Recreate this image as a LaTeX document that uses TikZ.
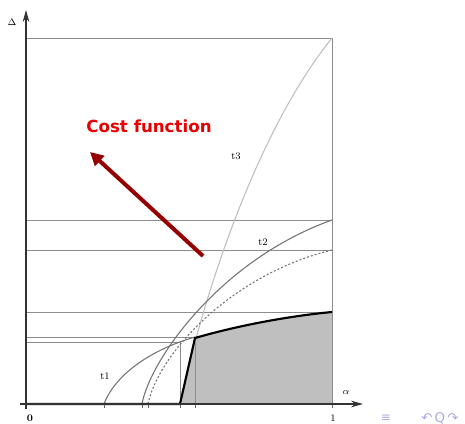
\documentclass[tikz,border=0pt]{standalone}
\usepackage{fontspec}
\newfontfamily\dejavu{DejaVu Sans}
\usetikzlibrary{arrows.meta}
\definecolor{costred}{RGB}{230,0,0}
\definecolor{arrowred}{RGB}{150,0,0}
\definecolor{navcol}{RGB}{170,170,225}
\begin{document}
\begin{tikzpicture}[x=0.75pt,y=-0.75pt,
  gridline/.style={draw=black!45, line width=0.6pt},
  curvemid/.style={draw=black!55, line width=0.8pt},
  curvelight/.style={draw=black!25, line width=0.8pt},
  curvedot/.style={draw=black!55, line width=0.8pt, dash pattern=on 1.5pt off 1.5pt},
  thickcurve/.style={draw=black, line width=1.6pt, line join=round},
  axisline/.style={draw=black!80, line width=0.8pt, -{Stealth[length=9pt,width=5pt]}},
  tick/.style={draw=black!60, line width=0.5pt},
  lbl/.style={font=\fontsize{7.5}{8}\selectfont, inner sep=0pt},
  ]
\useasboundingbox (0,0) rectangle (465,424);
% shaded region
\fill[black!25] (180,404) -- (195,338) .. controls (240,325) and (290,316) .. (332,312) -- (332,404) -- cycle;
% grid lines
\draw[gridline] (26,38) -- (332,38) -- (332,404);
\draw[gridline] (26,220) -- (332,220);
\draw[gridline] (26,250) -- (332,250);
\draw[gridline] (26,312) -- (332,312);
\draw[gridline] (26,337) -- (195,337) -- (195,404);
\draw[gridline] (26,342) -- (180,342) -- (180,404);
% curves
\draw[curvelight] (180,404) .. controls (198,318) and (250,140) .. (332,38);
\draw[curvemid] (104,404) .. controls (115,375) and (150,350) .. (195,337);
\draw[curvemid] (142,404) .. controls (150,360) and (220,260) .. (332,220);
\draw[curvedot] (148,404) .. controls (158,355) and (230,275) .. (332,250);
% thick curve
\draw[thickcurve] (26,404) -- (180,404) -- (195,338) .. controls (240,325) and (290,316) .. (332,312);
% ticks
\foreach \tx in {104,142,148,180,195,332} \draw[tick] (\tx,404) -- (\tx,408);
% axes
\coordinate (ytip) at (26,10);
\coordinate (ybot) at (26,409);
\coordinate (xleft) at (20,404);
\coordinate (xtip) at (363,404);
\draw[axisline] (ybot) -- (ytip);
\draw[axisline] (xleft) -- (xtip);
% labels
\node[lbl] (dlab) at (12,22) {$\Delta$};
\node[lbl] (alab) at (346,392) {$\alpha$};
\node[lbl, font=\fontsize{7.5}{8}\selectfont\bfseries] (zlab) at (30,418) {0};
\node[lbl] (olab) at (333,418) {1};
\node[lbl] (t1lab) at (105,376) {t1};
\node[lbl] (t2lab) at (263,242) {t2};
\node[lbl] (t3lab) at (236,156) {t3};
% cost function
\node[text=costred, font=\dejavu\bfseries\fontsize{12.5}{14}\selectfont, inner sep=0pt] (cost) at (149,126) {Cost function};
\coordinate (arrstart) at (203,256);
\coordinate (arrend) at (90,152);
\draw[arrowred, line width=3pt, -{Triangle[length=10pt,width=10pt]}] (arrstart) -- (arrend);
% navigation symbols
\node[text=navcol, font=\dejavu\fontsize{9}{9}\selectfont, inner sep=0pt] (nav1) at (386,418) {≡};
\node[text=navcol, font=\dejavu\fontsize{10}{10}\selectfont, inner sep=0pt] (nav2) at (440,418) {↶\,Q\,↷};
\end{tikzpicture}
\end{document}
